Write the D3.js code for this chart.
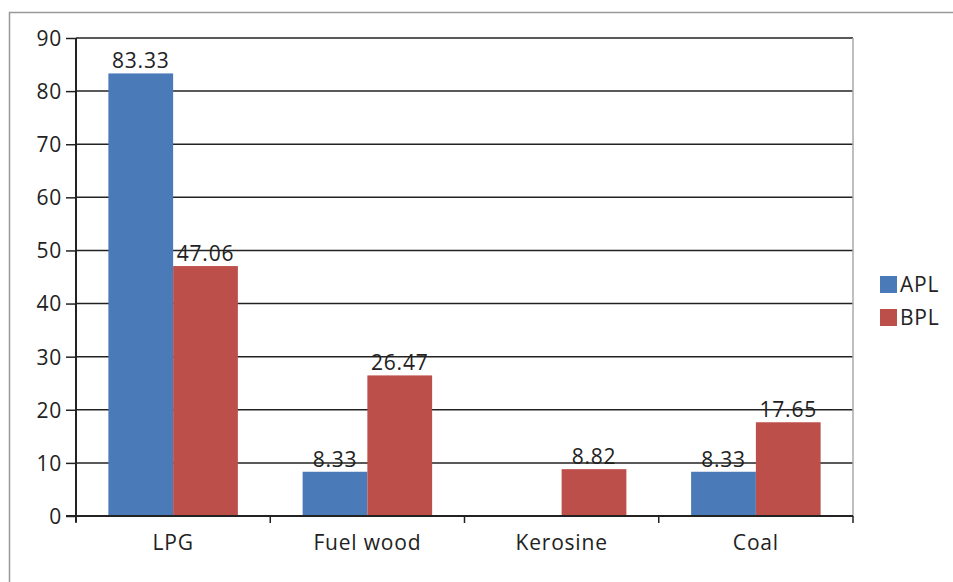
<!DOCTYPE html>
<html><head><meta charset="utf-8">
<script src="https://cdn.jsdelivr.net/npm/d3@7"></script>
<style>body{margin:0;background:#fff;} text{font-family:"Open Sans","Liberation Sans",sans-serif;fill:#222;letter-spacing:0.8px;}</style>
</head><body>
<svg id="c" width="953" height="582"></svg>
<script>
const categories = ["LPG", "Fuel wood", "Kerosine", "Coal"];
const seriesNames = ["APL", "BPL"];
const apl = [83.33, 8.33, null, 8.33];
const bpl = [47.06, 26.47, 8.82, 17.65];
const yTicks = [0, 10, 20, 30, 40, 50, 60, 70, 80, 90];
const colors = ["#4a7ab7", "#bd4f4b"];
const FS = 21;

const svg = d3.select("#c");
// outer border
svg.append("rect").attr("x", 9.5).attr("y", 12.5).attr("width", 960).attr("height", 600)
  .attr("fill", "none").attr("stroke", "#999").attr("stroke-width", 1.5);

const L = 76, R = 853, T = 38, B = 516;
const x = d3.scaleBand().domain(categories).range([L, R]).paddingInner(0).paddingOuter(0);
const y = d3.scaleLinear().domain([0, 90]).range([B, T]);
const xs = d3.scaleBand().domain(seriesNames).range([0, x.bandwidth()]).paddingInner(0).paddingOuter(0.5);

// gridlines
svg.append("g").selectAll("line").data(yTicks.filter(d => d > 0)).join("line")
  .attr("x1", L).attr("x2", R).attr("y1", d => y(d)).attr("y2", d => y(d))
  .attr("stroke", "#222").attr("stroke-width", 1.5);
// right plot border
svg.append("line").attr("x1", R).attr("x2", R).attr("y1", T).attr("y2", B)
  .attr("stroke", "#aaa").attr("stroke-width", 1.5);

// bars
const series = [apl, bpl];
series.forEach((vals, si) => {
  svg.append("g").selectAll("rect").data(categories.map((c, i) => ({c, v: vals[i]})).filter(d => d.v != null))
    .join("rect")
    .attr("x", d => x(d.c) + xs(seriesNames[si]))
    .attr("width", xs.bandwidth())
    .attr("y", d => y(d.v))
    .attr("height", d => y(0) - y(d.v))
    .attr("fill", colors[si]);
});
// labels
series.forEach((vals, si) => {
  svg.append("g").selectAll("text").data(categories.map((c, i) => ({c, v: vals[i]})).filter(d => d.v != null))
    .join("text")
    .attr("x", d => x(d.c) + xs(seriesNames[si]) + xs.bandwidth() / 2)
    .attr("y", d => y(d.v) - 5)
    .attr("text-anchor", "middle")
    .attr("font-size", FS)
    .text(d => d.v.toFixed(2));
});

// y axis
const yAxis = d3.axisLeft(y).tickValues(yTicks).tickSize(10).tickPadding(4);
const gy = svg.append("g").attr("transform", `translate(${L},0)`).call(yAxis);
gy.selectAll("text").attr("font-size", FS).attr("fill", "#222").attr("dy", "0.35em");
gy.selectAll("line").attr("stroke", "#222").attr("stroke-width", 1.5);
gy.select(".domain").attr("stroke", "#222").attr("stroke-width", 2).attr("d", `M0,${T}V${B + 6}`);

// x axis
const xAxis = d3.axisBottom(x).tickSize(0).tickPadding(19);
const gx = svg.append("g").attr("transform", `translate(0,${B})`).call(xAxis);
gx.select(".domain").attr("stroke", "#222").attr("stroke-width", 2).attr("d", `M${L - 10},0H${R}`);
gx.selectAll("text").attr("font-size", FS).attr("fill", "#222");
// category separator ticks
svg.append("g").selectAll("line").data(categories.concat(["_end"])).join("line")
  .attr("x1", (d, i) => i < categories.length ? x(d) : R)
  .attr("x2", (d, i) => i < categories.length ? x(d) : R)
  .attr("y1", B).attr("y2", B + 7)
  .attr("stroke", "#222").attr("stroke-width", 1.5);

// legend
const lg = svg.append("g");
seriesNames.forEach((s, i) => {
  lg.append("rect").attr("x", 880).attr("y", 276 + i * 33).attr("width", 17).attr("height", 17).attr("fill", colors[i]);
  lg.append("text").attr("x", 900).attr("y", 292 + i * 33).attr("font-size", FS).text(s);
});
</script>
</body></html>
